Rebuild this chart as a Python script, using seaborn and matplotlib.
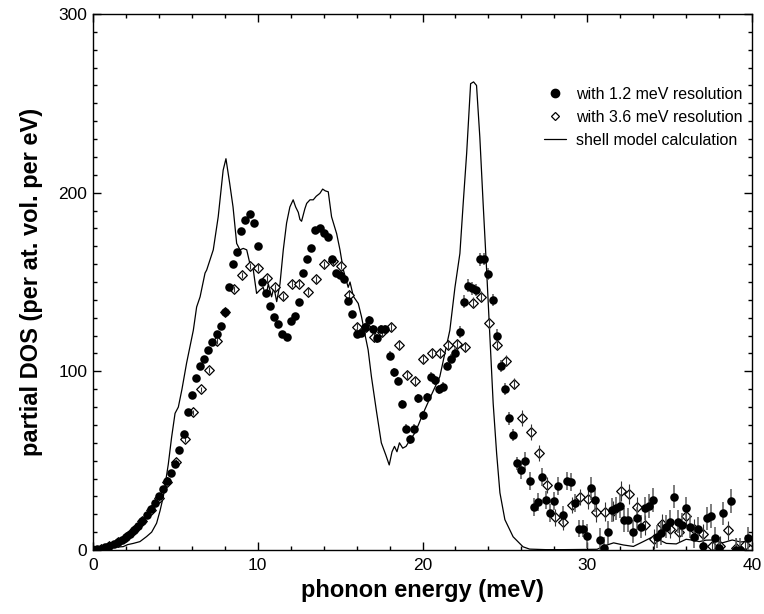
import numpy as np
import pandas as pd
import matplotlib
matplotlib.use("Agg")
import matplotlib.pyplot as plt
from matplotlib.ticker import MultipleLocator
from matplotlib.lines import Line2D
import seaborn as sns

# ---------------- data ----------------
# 1.2 meV resolution (filled circles)
e1 = [0.00, 0.25, 0.50, 0.75, 1.00, 1.25, 1.50, 1.75, 2.00, 2.25, 2.50, 2.75, 3.00, 3.25, 3.50, 3.75,
      4.00, 4.25, 4.50, 4.75, 5.00, 5.25, 5.50, 5.75, 6.00, 6.25, 6.50, 6.75, 7.00, 7.25, 7.50, 7.75,
      8.00, 8.25, 8.50, 8.75, 9.00, 9.25, 9.50, 9.75, 10.00, 10.25, 10.50, 10.75, 11.00, 11.25, 11.50, 11.75,
      12.00, 12.25, 12.50, 12.75, 13.00, 13.25, 13.50, 13.75, 14.00, 14.25, 14.50, 14.75, 15.00, 15.25, 15.50, 15.75,
      16.00, 16.25, 16.50, 16.75, 17.00, 17.25, 17.50, 17.75, 18.00, 18.25, 18.50, 18.75, 19.00, 19.25, 19.50, 19.75,
      20.00, 20.25, 20.50, 20.75, 21.00, 21.25, 21.50, 21.75, 22.00, 22.25, 22.50, 22.75, 23.00, 23.25, 23.50, 23.75,
      24.00, 24.25, 24.50, 24.75, 25.00, 25.25, 25.50, 25.75, 26.00, 26.25, 26.50, 26.75, 27.00, 27.25, 27.50, 27.75,
      28.00, 28.25, 28.50, 28.75, 29.00, 29.25, 29.50, 29.75, 30.00, 30.25, 30.50, 30.75, 31.00, 31.25, 31.50, 31.75,
      32.00, 32.25, 32.50, 32.75, 33.00, 33.25, 33.50, 33.75, 34.00, 34.25, 34.50, 34.75, 35.00, 35.25, 35.50, 35.75,
      36.00, 36.25, 36.50, 36.75, 37.00, 37.25, 37.50, 37.75, 38.00, 38.25, 38.75, 39.00, 39.25, 39.75]
d1 = [0, 0.3, 0.8, 1.5, 2.3, 3.2, 4.3, 5.8, 7.4, 9.2, 11.3, 13.6, 16.5, 19.5, 23, 26.5,
      30, 34, 38.5, 43, 48, 56, 65, 77, 87, 96, 103, 107, 112, 116.5, 121, 125.5,
      133, 147, 160, 167, 178.7, 184.7, 188, 183, 170, 150, 143.6, 136.5, 130.6, 126.5, 121, 119.4,
      128, 131, 139, 155, 163, 169, 179, 180, 177.6, 175, 162.6, 155, 154, 151.5, 139.5, 132,
      121, 121.6, 124.6, 128.7, 123.5, 118.5, 123.5, 123.5, 108.7, 99.4, 94.6, 81.7, 68, 62, 68, 85,
      75.5, 85.5, 97, 95, 90, 91.4, 103, 107, 110, 122, 139, 148, 146.5, 145.5, 162.7, 163,
      154.5, 140, 120, 103, 90, 73.7, 64.5, 48.5, 45, 50, 38.6, 24.2, 27, 41, 28, 20.5,
      27.6, 35.8, 19.6, 38.8, 38.2, 26.5, 12, 12, 7.8, 34.5, 28, 5.6, 0.9, 9.9, 22.4, 23.3,
      24.6, 16.8, 16.8, 10.2, 17.7, 13, 23.3, 24.6, 28, 7.4, 9.3, 13, 15.8, 29.8, 15.8, 14,
      23.3, 13, 7.5, 12, 2.2, 17.7, 19, 6.5, 1, 20.5, 27.4, 0, 0, 6.5]

# 3.6 meV resolution (open diamonds)
e2 = [0.0, 0.5, 1.0, 1.5, 2.0, 2.5, 3.0, 3.5, 4.0, 4.5, 5.04, 5.56, 6.05, 6.53, 7.04, 7.55,
      8.04, 8.54, 9.05, 9.53, 10.04, 10.55, 11.04, 11.55, 12.05, 12.53, 13.02, 13.51, 14.02, 14.54, 15.03, 15.56,
      16.04, 16.55, 17.05, 17.54, 18.06, 18.57, 19.03, 19.54, 20.04, 20.55, 21.05, 21.56, 22.07, 22.56, 23.04, 23.54,
      24.03, 24.53, 25.04, 25.54, 26.04, 26.56, 27.05, 27.54, 28.03, 28.54, 29.05, 29.55, 30.05, 30.56, 31.07, 31.55,
      32.04, 32.54, 33.03, 33.53, 34.04, 34.55, 35.05, 35.55, 36.0, 36.5, 37.05, 37.55, 38.06, 38.55, 39.05, 39.55]
d2 = [0, 0.7, 2.2, 4.2, 7.2, 11, 16, 22.5, 29, 38, 49.5, 62, 77, 90, 100.7, 117,
      133, 146, 154, 159, 158, 152, 147, 142, 149, 149, 144.6, 151.6, 160, 161.6, 159, 143,
      125, 125, 119.4, 122, 124.6, 115, 97.7, 94.7, 106.8, 110, 110, 114.5, 115.3, 113.6, 138.5, 141.8,
      126.8, 115, 106, 93, 73.8, 66, 54.2, 36.4, 18.2, 15.8, 25.3, 29.5, 28.4, 21, 21.5, 22,
      33.2, 31.3, 24, 14, 6, 14.4, 12, 10, 19, 12, 8.8, 2.3, 2.3, 11, 1, 3]

# shell model calculation (line)
e3 = [0, 0.5, 0.83, 1.3, 1.84, 2.1, 2.45, 2.85, 3.25, 3.56, 3.86, 4.07, 4.27, 4.57, 4.77, 4.98,
      5.18, 5.4, 5.68, 6.09, 6.29, 6.5, 6.8, 6.9, 7.3, 7.6, 7.9, 8.07, 8.3, 8.5, 8.72, 8.92,
      9.12, 9.33, 9.53, 9.73, 9.93, 10.13, 10.33, 10.5, 10.64, 10.84, 10.98, 11.15, 11.35, 11.55, 11.75, 11.95,
      12.15, 12.3, 12.46, 12.56, 12.66, 12.86, 12.97, 13.17, 13.37, 13.55, 13.77, 13.94, 14.1, 14.28, 14.48, 14.79,
      14.99, 15.19, 15.49, 15.6, 15.8, 16.1, 16.3, 16.5, 16.7, 16.9, 17.2, 17.5, 17.78, 17.98, 18.15, 18.3,
      18.45, 18.6, 18.8, 19.0, 19.2, 19.5, 19.75, 20.04, 20.5, 21.05, 21.4, 21.66, 21.97, 22.27, 22.47, 22.68,
      22.92, 23.1, 23.28, 23.48, 23.68, 23.89, 24.09, 24.29, 24.5, 24.7, 25.0, 25.5, 26.1, 26.5, 27.5, 28.5,
      29.5, 30.6, 31.1, 31.6, 32.2, 32.8, 33.4, 34.0, 34.4, 34.8, 35.4, 36.0, 36.4, 36.8, 37.2, 37.6,
      38.2, 38.8, 39.3, 39.6, 40.0]
d3 = [0, 0.3, 0.9, 1.5, 1.9, 3, 3.7, 4.7, 7.5, 10, 15, 22, 30, 48, 63, 76.5,
      80, 90, 104.6, 123, 136, 141.7, 155, 156.7, 168, 186.5, 212.6, 219, 205, 192, 171.6, 168,
      168.8, 168, 160, 156.7, 143.6, 145.5, 147, 141.7, 149, 141.7, 147, 139, 149, 168, 183, 192,
      196, 192, 189, 185, 184, 191, 194, 196, 196, 198, 199.6, 202, 201, 200.5, 186.5, 177,
      168, 157, 147, 150, 142, 138, 130.5, 121, 112, 97, 78, 60, 53, 47.6, 55, 58,
      55, 60, 57, 58, 61, 65, 70, 76.5, 86, 97, 112, 123, 147, 166, 194, 222,
      261, 262, 260, 231, 194, 157, 119, 82, 54, 32, 17, 7.4, 1.8, 0.5, 0.2, 0.2,
      0.3, 0.4, 2.5, 4, 2.8, 2, 4.7, 7.5, 5.5, 3.7, 3.4, 6, 5.5, 4.7, 5.5, 5.6,
      4, 5.6, 4.5, 4.7, 2]

# error bar half-heights by energy band
err_edges = [0, 10, 16, 22, 26, 30]
err1_band = [1.0, 1.5, 2.5, 3.5, 5.0, 6.5]
err2_band = [1.5, 2.0, 2.5, 3.0, 4.5, 5.5]

xticks = [0, 10, 20, 30, 40]
yticks = [0, 100, 200, 300]
labels = ["with 1.2 meV resolution", "with 3.6 meV resolution", "shell model calculation"]

# ---------------- plot ----------------
sns.set_theme(style="ticks")
plt.rcParams["font.family"] = ["Liberation Sans", "DejaVu Sans"]
plt.rcParams["text.color"] = "black"
plt.rcParams["axes.labelcolor"] = "black"
plt.rcParams["xtick.color"] = "black"
plt.rcParams["ytick.color"] = "black"

s1 = np.array(err1_band)[np.searchsorted(err_edges, e1, side="right") - 1]
s2 = np.array(err2_band)[np.searchsorted(err_edges, e2, side="right") - 1]

df1 = pd.DataFrame({"E": e1, "D": d1})
df2 = pd.DataFrame({"E": e2, "D": d2})
df3 = pd.DataFrame({"E": e3, "D": d3})

fig = plt.figure(figsize=(7.64, 6.14), dpi=100)
ax = fig.add_axes([93 / 764, 1 - 550 / 614, 659 / 764, 536 / 614])

sns.lineplot(data=df3, x="E", y="D", ax=ax, color="black", linewidth=0.9, zorder=1)

sns.scatterplot(data=df2, x="E", y="D", ax=ax, marker="D", s=24, facecolor="white",
                edgecolor="black", linewidth=0.9, zorder=2)
ax.errorbar(e2, d2, yerr=s2, fmt="none", ecolor="0.2", elinewidth=0.8, capsize=0, zorder=2.5)

ax.errorbar(e1, d1, yerr=s1, fmt="none", ecolor="0.35", elinewidth=1.1, capsize=0, zorder=3)
sns.scatterplot(data=df1, x="E", y="D", ax=ax, marker="o", s=38, color="black",
                edgecolor="black", linewidth=0, zorder=4)

ax.set_xlim(0, 40)
ax.set_ylim(0, 300)
ax.set_xticks(xticks)
ax.set_yticks(yticks)
ax.xaxis.set_minor_locator(MultipleLocator(2))
ax.yaxis.set_minor_locator(MultipleLocator(10))
ax.tick_params(which="both", direction="in", top=True, right=True, width=1, colors="black",
               labelsize=12.5, pad=4)
ax.tick_params(axis="x", which="major", pad=6)
ax.tick_params(which="major", length=6)
ax.tick_params(which="minor", length=3)
for sp in ax.spines.values():
    sp.set_linewidth(1)
    sp.set_color("black")

ax.set_xlabel("phonon energy (meV)", fontsize=17, fontweight="bold", labelpad=4, color="black")
ax.set_ylabel("partial DOS (per at. vol. per eV)", fontsize=17, fontweight="bold", labelpad=11,
              color="black")

handles = [
    Line2D([], [], linestyle="none", marker="o", markersize=6, color="black"),
    Line2D([], [], linestyle="none", marker="D", markersize=4.5, markerfacecolor="white",
           markeredgecolor="black", markeredgewidth=0.9),
    Line2D([], [], color="black", linewidth=0.9),
]
leg = ax.legend(handles, labels, loc="upper right", bbox_to_anchor=(0.995, 0.876), frameon=False,
                fontsize=11.5, handlelength=1.4, handletextpad=0.6, labelspacing=0.5,
                borderaxespad=0)
for t in leg.get_texts():
    t.set_color("black")

fig.savefig("out.png", dpi=100)
